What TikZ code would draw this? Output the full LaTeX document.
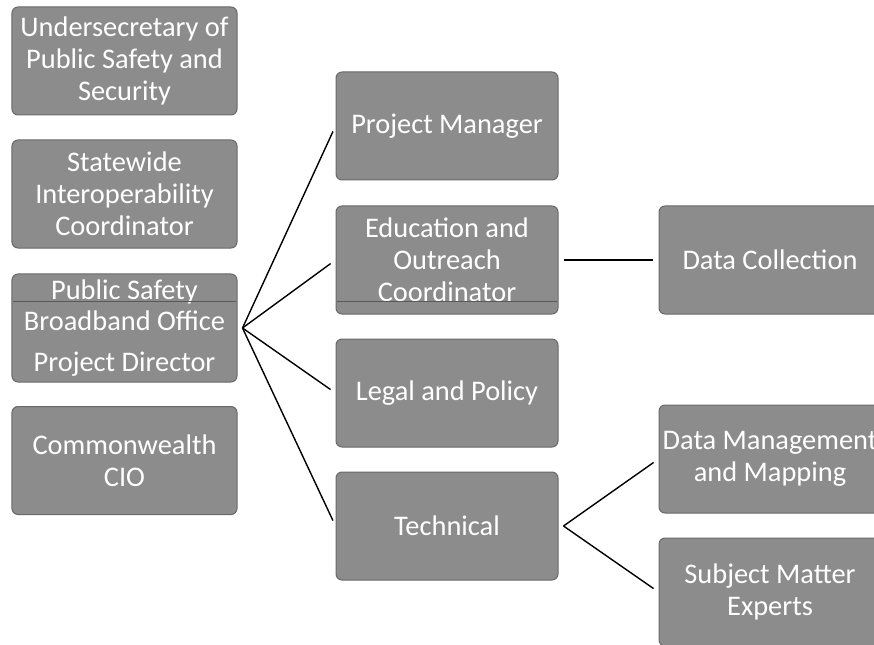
\documentclass[tikz,border=0pt]{standalone}
\usepackage{fontspec}
\setmainfont{Carlito}
\definecolor{boxfill}{RGB}{140,140,140}
\definecolor{boxedge}{RGB}{105,105,105}
\begin{document}
\begin{tikzpicture}[x=1bp,y=-1bp,
  orgbox/.style={draw=boxedge, line width=1bp, fill=boxfill, rounded corners=6bp,
    minimum height=108bp, align=center, text=white,
    font=\fontsize{28.5}{32}\selectfont, inner sep=0pt},
  leftbox/.style={orgbox, minimum width=225bp},
  midbox/.style={orgbox, minimum width=222bp},
  sepline/.style={draw=boxedge!85!black, line width=0.8bp},
  link/.style={draw=black, line width=1.4bp}]
\useasboundingbox (0,0) rectangle (874,645);
\begin{scope}
\clip (0,0) rectangle (874,645);
% left column
\node[leftbox] (usec) at (124.5,61) {Undersecretary of\\Public Safety and\\Security};
\node[leftbox] (swic) at (124.5,194) {Statewide\\Interoperability\\Coordinator};
\node[leftbox] (psbo) at (124.5,328) {Public Safety\\Broadband Office\\[9bp]Project Director};
\node[leftbox] (cio) at (124.5,460.5) {Commonwealth\\CIO};
\draw[sepline] (13,301) -- (236,301);
% middle column
\node[midbox] (pm) at (447,126) {Project Manager};
\node[midbox] (edu) at (447,260) {Education and\\Outreach\\Coordinator};
\node[midbox] (legal) at (447,393) {Legal and Policy};
\node[midbox] (tech) at (447,526) {Technical};
\draw[sepline] (337,301) -- (557,301);
% right column
\node[midbox] (dc) at (770,260) {Data Collection};
\node[midbox] (dm) at (770,459) {Data Management\\and Mapping};
\node[midbox] (sme) at (770,592) {Subject Matter\\Experts};
% connectors
\coordinate (fan) at ([xshift=5bp]psbo.east);
\coordinate (tfork) at ([xshift=5bp]tech.east);
\draw[link, shorten >=6bp] (fan) -- (pm.west);
\draw[link, shorten >=6bp] (fan) -- (edu.west);
\draw[link, shorten >=6bp] (fan) -- (legal.west);
\draw[link, shorten >=6bp] (fan) -- (tech.west);
\draw[link, shorten <=5bp, shorten >=6bp] (edu.east) -- (dc.west);
\draw[link, shorten >=6bp] (tfork) -- (dm.west);
\draw[link, shorten >=6bp] (tfork) -- (sme.west);
\end{scope}
\end{tikzpicture}
\end{document}
